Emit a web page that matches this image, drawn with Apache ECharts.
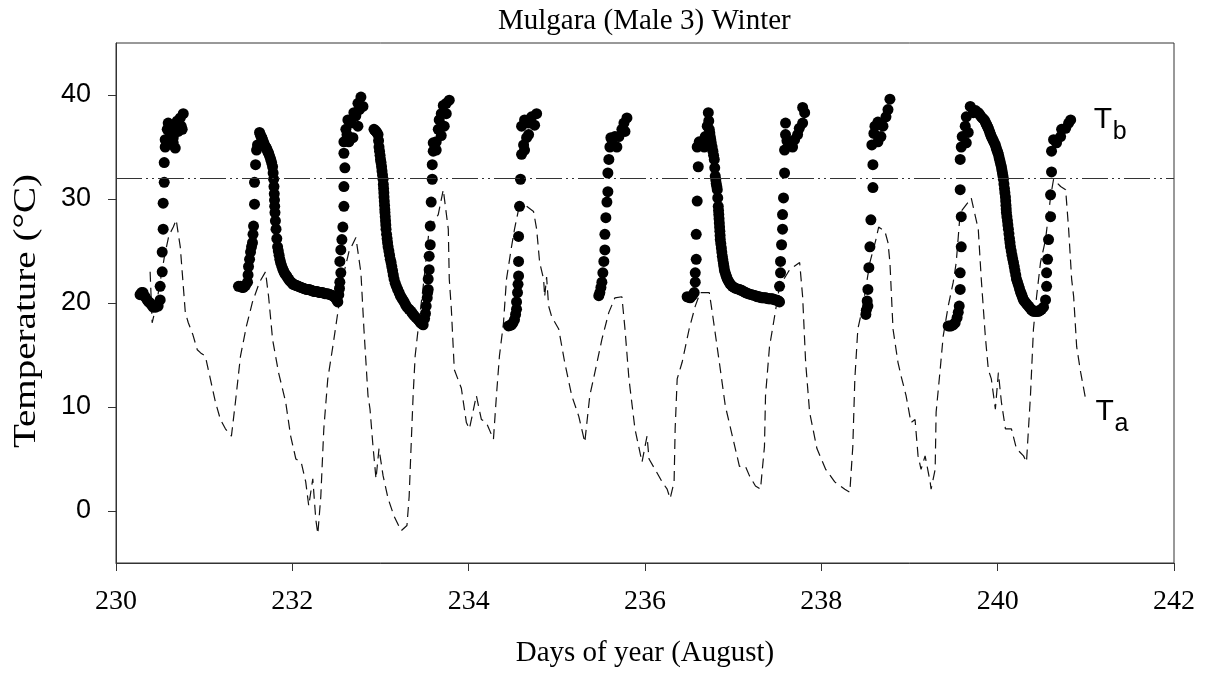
<!DOCTYPE html>
<html><head><meta charset="utf-8">
<script src="https://cdn.jsdelivr.net/npm/echarts@6/dist/echarts.min.js"></script>
<style>html,body{margin:0;padding:0;background:#fff}#c{width:1206px;height:673px}</style>
</head><body><div id="c"></div>
<script>
const chartTitle = 'Mulgara (Male 3) Winter';
const xAxisTitle = 'Days of year (August)';
const yAxisTitle = 'Temperature (\u00B0C)';
const xRange = [230, 242];
const xStep = 2;
const yRange = [-5, 45];
const yTickValues = [0, 10, 20, 30, 40];
const thresholdTemp = 32;
const tbLabel = { main: 'T', sub: 'b', at: [241.09, 37.6] };
const taLabel = { main: 'T', sub: 'a', at: [241.11, 9.5] };

// Body temperature (Tb), dots
const tbPoints = [
[230.273,20.8],[230.290,21.0],[230.307,21.0],[230.330,20.6],[230.353,20.3],[230.370,20.1],[230.387,20.0],[230.405,19.8],[230.421,19.6],[230.450,19.6],[230.478,19.7],[230.501,20.3],[230.501,21.6],[230.524,23.0],[230.524,24.9],[230.535,27.1],[230.535,29.6],[230.547,31.6],[230.547,33.5],[230.558,35.0],[230.558,35.7],[230.581,36.7],[230.592,37.3],[230.638,36.7],[230.672,34.9],[230.649,35.9],[230.649,35.4],[230.695,37.5],[230.729,37.8],[230.763,38.2],[230.751,36.7],[230.615,36.2],[230.705,36.5],[230.740,37.0],
[231.389,21.6],[231.410,21.6],[231.430,21.5],[231.446,21.5],[231.470,21.7],[231.492,22.0],[231.498,22.7],[231.503,23.5],[231.515,24.2],[231.526,24.9],[231.537,25.4],[231.548,25.8],[231.554,26.6],[231.560,27.4],[231.571,29.5],[231.571,31.6],[231.583,33.3],[231.594,34.7],[231.605,35.2],[231.628,36.4],[231.637,36.2],[231.645,36.0],[231.654,35.9],[231.662,35.7],[231.671,35.5],[231.680,35.3],[231.688,35.1],[231.696,35.0],[231.705,34.9],[231.715,34.7],[231.723,34.5],[231.731,34.4],[231.743,34.1],[231.755,33.8],[231.765,33.5],[231.776,33.1],[231.782,32.5],[231.788,31.9],[231.792,31.2],[231.795,30.5],[231.798,29.9],[231.800,29.3],[231.803,28.7],[231.808,27.9],[231.815,27.1],[231.824,26.2],[231.833,25.4],[231.841,25.0],[231.850,24.6],[231.858,24.2],[231.867,23.9],[231.878,23.6],[231.890,23.3],[231.900,23.1],[231.910,22.9],[231.922,22.75],[231.935,22.6],[231.946,22.45],[231.958,22.3],[231.970,22.15],[231.985,22.0],[232.000,21.9],[232.010,21.8],[232.025,21.75],[232.040,21.7],[232.055,21.65],[232.070,21.6],[232.085,21.55],[232.100,21.5],[232.115,21.45],[232.130,21.4],[232.145,21.35],[232.160,21.3],[232.175,21.3],[232.190,21.3],[232.205,21.25],[232.220,21.2],[232.235,21.15],[232.250,21.1],[232.265,21.1],[232.280,21.1],[232.295,21.05],[232.310,21.0],[232.325,21.0],[232.340,21.0],[232.355,20.95],[232.370,20.9],[232.385,20.9],[232.400,20.9],[232.415,20.85],[232.430,20.8],[232.445,20.75],[232.460,20.7],[232.475,20.6],[232.490,20.5],[232.503,20.3],[232.516,20.1],
[232.527,20.8],[232.535,21.4],[232.539,22.0],[232.550,22.9],[232.539,24.0],[232.550,25.1],[232.562,26.1],[232.573,27.3],[232.585,29.3],[232.585,31.2],[232.596,33.0],[232.585,34.4],[232.585,35.5],[232.607,36.7],[232.630,37.6],[232.664,37.3],[232.698,38.3],[232.744,39.2],[232.778,39.8],[232.801,38.9],[232.744,37.0],[232.687,35.9],[232.641,35.5],[232.620,36.2],[232.720,38.0],[232.760,38.6],
[232.926,36.7],[232.938,36.6],[232.950,36.5],[232.961,36.35],[232.972,36.2],[232.978,35.6],[232.983,35.0],[232.989,34.6],[232.995,34.2],[233.000,33.8],[233.006,33.5],[233.012,33.1],[233.017,32.7],[233.023,32.3],[233.029,31.9],[233.032,31.4],[233.035,31.0],[233.038,30.6],[233.040,30.2],[233.043,29.8],[233.046,29.4],[233.049,29.0],[233.051,28.7],[233.054,28.3],[233.057,27.9],[233.060,27.5],[233.063,27.1],[233.069,26.6],[233.075,26.2],[233.080,25.8],[233.086,25.4],[233.095,25.0],[233.103,24.6],[233.111,24.2],[233.120,23.9],[233.128,23.5],[233.137,23.1],[233.145,22.7],[233.154,22.3],[233.167,21.9],[233.180,21.6],[233.195,21.3],[233.211,21.0],[233.225,20.7],[233.240,20.5],[233.254,20.3],[233.268,20.1],[233.284,19.85],[233.300,19.6],[233.323,19.4],[233.347,19.2],[233.363,19.0],[233.380,18.8],[233.403,18.6],[233.427,18.4],[233.441,18.25],[233.455,18.1],[233.470,18.0],[233.484,17.9],
[233.500,18.5],[233.510,19.0],[233.518,19.7],[233.530,20.5],[233.535,21.0],[233.541,21.3],[233.541,22.3],[233.552,23.2],[233.552,24.5],[233.564,25.6],[233.564,27.4],[233.575,29.7],[233.587,31.9],[233.587,33.3],[233.598,34.6],[233.598,35.4],[233.632,35.5],[233.655,36.7],[233.666,37.6],[233.689,38.2],[233.712,39.0],[233.746,39.2],[233.780,39.5],[233.746,38.2],[233.723,37.0],[233.689,36.1],[233.632,34.7],
[234.452,17.8],[234.470,17.85],[234.486,17.9],[234.503,18.1],[234.520,18.4],[234.532,18.9],[234.543,19.4],[234.543,20.1],[234.554,21.0],[234.560,21.8],[234.566,22.6],[234.566,24.0],[234.566,26.4],[234.577,29.3],[234.588,31.9],[234.600,34.3],[234.623,35.2],[234.600,37.0],[234.634,37.6],[234.657,35.9],[234.680,37.3],[234.714,37.9],[234.771,38.2],[234.748,37.1],[234.680,36.2],[234.634,34.7],
[235.476,20.7],[235.488,21.0],[235.500,21.5],[235.511,22.0],[235.522,22.9],[235.533,24.0],[235.545,25.1],[235.545,26.6],[235.556,28.2],[235.568,29.7],[235.579,30.7],[235.579,32.5],[235.590,33.8],[235.602,35.0],[235.625,35.7],[235.659,36.0],[235.704,36.0],[235.681,35.0],[235.738,36.7],[235.761,37.3],[235.795,37.8],[235.773,36.5],[235.613,35.9],
[236.478,20.6],[236.500,20.55],[236.513,20.5],[236.535,20.7],[236.558,21.0],[236.570,22.0],[236.570,22.9],[236.581,24.2],[236.581,26.6],[236.592,29.8],[236.604,33.1],[236.592,35.0],[236.615,35.5],[236.649,35.5],[236.672,35.0],[236.683,36.0],[236.706,37.0],[236.718,38.3],[236.723,37.5],[236.729,36.7],[236.735,36.35],[236.740,36.0],[236.746,35.7],[236.752,35.4],[236.761,35.0],[236.770,34.6],[236.778,34.2],[236.786,33.8],[236.791,33.0],[236.797,32.2],[236.803,31.85],[236.808,31.5],[236.814,31.2],[236.820,30.9],[236.825,30.1],[236.831,29.3],[236.834,28.9],[236.837,28.5],[236.840,28.1],[236.843,27.7],[236.846,27.3],[236.849,26.9],[236.852,26.5],[236.854,26.1],[236.860,25.7],[236.866,25.3],[236.871,24.9],[236.877,24.5],[236.883,24.15],[236.890,23.8],[236.895,23.5],[236.900,23.2],[236.908,22.95],[236.917,22.7],[236.925,22.5],[236.934,22.3],[236.947,22.1],[236.960,21.9],[236.975,21.75],[236.991,21.6],[237.010,21.5],[237.030,21.4],[237.050,21.35],[237.071,21.3],[237.085,21.25],[237.100,21.2],[237.120,21.1],[237.139,21.0],[237.155,20.95],[237.170,20.9],[237.190,20.85],[237.210,20.8],[237.230,20.75],[237.253,20.7],[237.265,20.65],[237.280,20.6],[237.295,20.6],[237.310,20.55],[237.325,20.5],[237.340,20.5],[237.355,20.5],[237.370,20.5],[237.385,20.45],[237.400,20.4],[237.415,20.4],[237.430,20.4],[237.445,20.4],[237.460,20.35],[237.475,20.3],[237.490,20.3],[237.503,20.25],[237.515,20.2],
[237.526,20.1],[237.526,21.6],[237.537,22.9],[237.537,24.0],[237.549,25.6],[237.560,27.1],[237.560,28.5],[237.571,30.1],[237.583,32.5],[237.583,34.7],[237.594,36.2],[237.594,37.3],[237.640,35.2],[237.697,35.7],[237.731,36.2],[237.788,37.3],[237.788,38.8],[237.811,38.3],[237.674,35.0],[237.610,35.6],[237.750,36.8],
[238.505,18.9],[238.510,19.3],[238.520,20.2],[238.528,19.7],[238.528,21.3],[238.539,23.4],[238.551,25.4],[238.562,28.0],[238.585,31.1],[238.585,33.3],[238.573,35.2],[238.596,36.3],[238.608,37.0],[238.642,37.4],[238.676,36.0],[238.699,37.0],[238.733,37.9],[238.756,38.6],[238.778,39.6],[238.642,35.5],
[239.439,17.8],[239.456,17.8],[239.473,17.8],[239.496,17.9],[239.518,18.1],[239.540,18.6],[239.553,19.1],[239.564,19.7],[239.575,21.3],[239.575,22.9],[239.587,25.4],[239.587,28.3],[239.575,30.9],[239.575,33.8],[239.587,35.0],[239.598,36.0],[239.632,37.0],[239.644,37.9],[239.689,38.9],[239.723,38.3],[239.666,36.4],[239.644,35.4],[239.750,38.5],[239.780,38.3],[239.797,38.1],[239.814,37.9],[239.831,37.75],[239.848,37.6],[239.860,37.4],[239.868,37.25],[239.877,37.1],[239.885,36.95],[239.894,36.8],[239.902,36.6],[239.911,36.4],[239.920,36.2],[239.928,36.0],[239.940,35.8],[239.951,35.6],[239.962,35.4],[239.974,35.2],[239.982,34.95],[239.991,34.7],[240.000,34.5],[240.008,34.3],[240.016,34.0],[240.025,33.7],[240.033,33.4],[240.042,33.1],[240.048,32.8],[240.054,32.5],[240.060,32.2],[240.065,31.9],[240.071,31.45],[240.077,31.0],[240.082,30.6],[240.088,30.2],[240.091,29.8],[240.094,29.4],[240.097,29.05],[240.099,28.7],[240.105,28.3],[240.111,27.9],[240.116,27.5],[240.122,27.1],[240.128,26.65],[240.134,26.2],[240.140,25.8],[240.145,25.4],[240.154,25.0],[240.162,24.6],[240.170,24.25],[240.179,23.9],[240.188,23.5],[240.196,23.1],[240.205,22.7],[240.213,22.3],[240.225,22.0],[240.236,21.7],[240.247,21.4],[240.258,21.1],[240.267,20.9],[240.276,20.7],[240.284,20.5],[240.293,20.3],[240.306,20.15],[240.320,20.0],[240.335,19.85],[240.350,19.7],[240.364,19.55],[240.378,19.4],[240.392,19.3],[240.406,19.2],[240.420,19.2],[240.435,19.2],[240.450,19.2],[240.463,19.2],[240.480,19.3],[240.498,19.4],
[240.520,19.6],[240.543,20.3],[240.555,21.6],[240.555,22.9],[240.566,24.2],[240.577,26.1],[240.600,28.3],[240.600,30.4],[240.611,32.6],[240.611,34.6],[240.634,35.7],[240.668,35.4],[240.714,36.0],[240.725,36.7],[240.771,36.8],[240.805,37.3],[240.828,37.6]
];

// Ambient temperature (Ta), dashed line
const taPoints = [
[230.387,23.0],[230.410,18.1],[230.450,19.5],[230.500,22.0],[230.550,24.5],[230.600,26.5],[230.650,27.3],[230.683,28.0],[230.700,27.0],[230.729,25.4],[230.786,19.1],[230.820,18.1],[230.870,17.0],[230.922,15.5],[230.960,15.2],[231.013,14.9],[231.070,12.7],[231.127,10.5],[231.184,8.8],[231.241,7.9],[231.309,7.2],[231.355,10.5],[231.412,14.9],[231.480,17.8],[231.548,20.1],[231.628,22.0],[231.696,23.0],[231.731,20.6],[231.776,16.5],[231.844,13.3],[231.924,10.5],[231.981,7.2],[232.040,5.0],[232.100,4.7],[232.152,2.8],[232.186,0.5],[232.232,3.1],[232.266,-0.8],[232.289,-2.2],[232.323,1.4],[232.357,7.9],[232.402,12.7],[232.459,15.8],[232.516,19.1],[232.585,22.9],[232.641,24.9],[232.721,26.3],[232.778,22.9],[232.812,17.5],[232.858,11.1],[232.881,9.8],[232.915,6.2],[232.949,3.1],[232.983,6.0],[233.029,3.4],[233.086,1.2],[233.154,-0.5],[233.234,-1.9],[233.300,-1.4],[233.325,1.4],[233.347,6.2],[233.370,11.1],[233.393,14.9],[233.427,17.5],[233.490,22.0],[233.552,27.1],[233.655,28.5],[233.712,30.9],[233.769,27.1],[233.780,22.3],[233.803,19.5],[233.837,13.6],[233.917,11.8],[233.974,8.5],[234.008,7.9],[234.031,8.8],[234.087,11.1],[234.144,8.8],[234.201,8.5],[234.281,6.9],[234.315,11.1],[234.349,14.9],[234.395,18.1],[234.429,22.3],[234.486,25.4],[234.520,27.1],[234.566,29.0],[234.657,29.3],[234.736,28.8],[234.771,27.1],[234.805,23.9],[234.850,22.3],[234.862,20.6],[234.884,22.5],[234.907,19.7],[234.941,18.7],[235.021,17.5],[235.089,14.3],[235.169,11.1],[235.249,9.1],[235.317,6.6],[235.374,11.1],[235.431,13.3],[235.511,16.5],[235.590,19.1],[235.659,20.5],[235.738,20.6],[235.773,17.5],[235.818,12.7],[235.886,7.9],[235.966,4.7],[236.023,7.2],[236.046,5.0],[236.114,4.0],[236.194,2.8],[236.251,2.1],[236.285,1.2],[236.330,2.8],[236.342,7.9],[236.365,12.7],[236.421,14.3],[236.501,17.5],[236.570,19.7],[236.626,21.0],[236.729,21.0],[236.763,19.1],[236.843,14.3],[236.911,10.1],[236.991,7.2],[237.071,4.3],[237.139,4.3],[237.184,3.4],[237.253,2.4],[237.310,2.1],[237.355,6.2],[237.367,11.1],[237.412,15.8],[237.446,17.5],[237.526,21.6],[237.640,23.2],[237.754,23.9],[237.788,20.6],[237.822,14.3],[237.867,9.5],[237.950,6.0],[238.050,4.0],[238.152,2.8],[238.266,2.1],[238.323,1.8],[238.357,6.2],[238.380,12.7],[238.414,17.5],[238.471,19.7],[238.551,23.9],[238.619,26.1],[238.650,27.3],[238.721,26.9],[238.756,25.8],[238.778,23.9],[238.813,17.5],[238.869,14.3],[238.904,13.0],[238.961,11.1],[239.017,8.5],[239.063,8.8],[239.097,5.3],[239.131,4.0],[239.177,5.3],[239.234,2.8],[239.245,2.1],[239.291,4.0],[239.302,9.5],[239.348,13.6],[239.382,16.8],[239.439,19.7],[239.496,22.0],[239.530,23.9],[239.575,28.7],[239.666,29.7],[239.700,30.1],[239.780,27.1],[239.814,22.3],[239.860,16.8],[239.894,13.6],[239.928,12.7],[239.974,9.8],[240.008,13.3],[240.042,10.5],[240.088,7.9],[240.156,7.9],[240.213,6.0],[240.293,5.3],[240.327,4.7],[240.372,11.1],[240.406,17.5],[240.441,20.6],[240.486,23.9],[240.543,26.1],[240.600,30.2],[240.634,31.9],[240.714,31.2],[240.771,30.9],[240.805,27.1],[240.839,22.3],[240.862,20.6],[240.896,15.8],[240.942,13.3],[240.999,10.7]
];

const serif = '"Liberation Serif", "Times New Roman", serif';
const sans = '"Liberation Sans", Arial, sans-serif';
const axisColor = '#333';

const chart = echarts.init(document.getElementById('c'), null, { renderer: 'canvas' });
chart.setOption({
  animation: false,
  backgroundColor: '#fff',
  title: { text: chartTitle, left: 498, top: 7, padding: 0,
    textStyle: { fontFamily: serif, fontSize: 29, fontWeight: 'normal', color: '#000' } },
  grid: { left: 116, right: 32, top: 43, bottom: 110, show: true, borderColor: axisColor, borderWidth: 1, backgroundColor: 'transparent' },
  xAxis: {
    type: 'value', min: xRange[0], max: xRange[1], interval: xStep,
    name: xAxisTitle, nameLocation: 'middle', nameGap: 76,
    nameTextStyle: { fontFamily: serif, fontSize: 29, color: '#000' },
    axisLine: { show: true, onZero: false, lineStyle: { color: axisColor, width: 1 } },
    axisTick: { show: true, inside: false, length: 8, lineStyle: { color: axisColor } },
    axisLabel: { fontFamily: serif, fontSize: 28, color: '#000', margin: 25 },
    splitLine: { show: false }
  },
  yAxis: {
    type: 'value', min: yRange[0], max: yRange[1],
    axisLine: { show: true, onZero: false, lineStyle: { color: axisColor, width: 1 } },
    axisTick: { show: true, inside: false, length: 8, lineStyle: { color: axisColor }, customValues: yTickValues },
    axisLabel: { fontFamily: sans, fontSize: 27, color: '#000', margin: 25, customValues: yTickValues },
    splitLine: { show: false }
  },
  series: [
    {
      name: 'Ta', type: 'line', data: taPoints, showSymbol: false, symbol: 'none', z: 2,
      lineStyle: { color: '#111', width: 1.2, type: [10, 6] },
      markLine: {
        silent: true, symbol: ['none', 'none'], label: { show: false },
        lineStyle: { color: '#333', width: 1, type: [26, 4, 2, 4, 2, 4] },
        data: [{ yAxis: thresholdTemp }]
      }
    },
    {
      name: 'Tb', type: 'scatter', data: tbPoints, symbol: 'circle', symbolSize: 11, z: 3,
      itemStyle: { color: '#000', opacity: 1 }
    }
  ]
});

function labelGraphics(lbl) {
  const p = chart.convertToPixel({ gridIndex: 0 }, lbl.at);
  return [
    { type: 'text', x: p[0], y: p[1], style: { text: lbl.main, font: '30px ' + sans, fill: '#000', textAlign: 'left', textVerticalAlign: 'middle' } },
    { type: 'text', x: p[0] + 19, y: p[1] + 12, style: { text: lbl.sub, font: '25px ' + sans, fill: '#000', textAlign: 'left', textVerticalAlign: 'middle' } }
  ];
}
// y-axis title: vertical, slightly stretched along its length as in the reference
const yTitleGraphic = {
  type: 'text', x: 27, y: 311, rotation: Math.PI / 2, scaleX: 1.26, scaleY: 1,
  style: { text: yAxisTitle, font: '31px ' + serif, fill: '#000', textAlign: 'center', textVerticalAlign: 'middle' }
};
chart.setOption({ graphic: labelGraphics(tbLabel).concat(labelGraphics(taLabel)).concat([yTitleGraphic]) });
</script>
</body></html>
